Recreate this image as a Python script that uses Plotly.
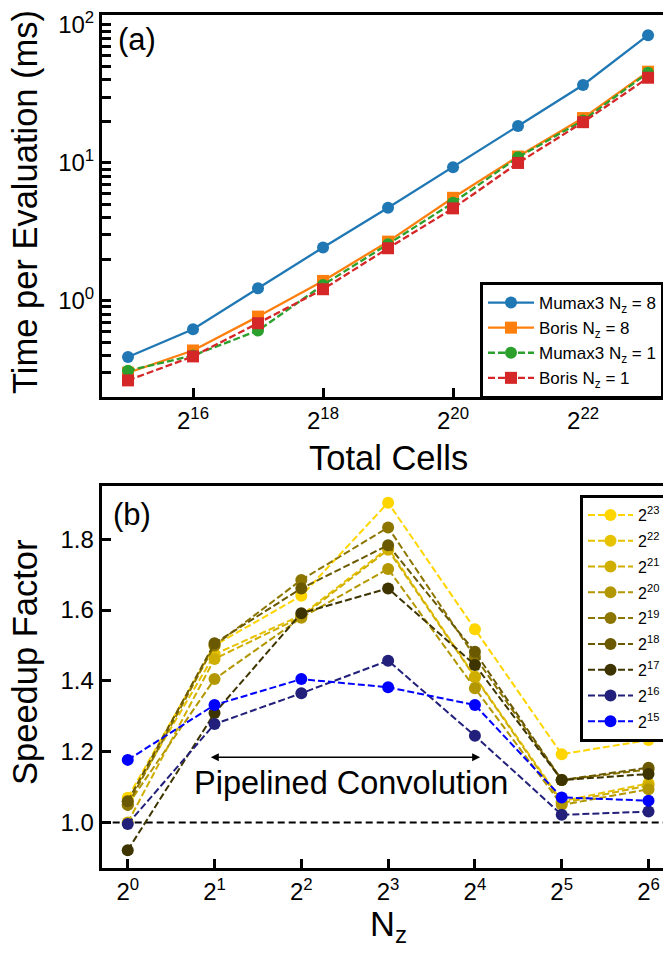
import math
import plotly.graph_objects as go

# ---------------- data ----------------
# Panel (a): time per evaluation (ms) vs total cells
total_cells = [2**k for k in range(15, 24)]
mumax_nz8 = [0.39, 0.62, 1.23, 2.43, 4.72, 9.28, 18.5, 36.7, 84.3]
boris_nz8 = [0.30, 0.435, 0.766, 1.39, 2.68, 5.57, 11.1, 21.1, 45.8]
mumax_nz1 = [0.31, 0.40, 0.607, 1.30, 2.57, 5.13, 10.96, 20.3, 45.0]
boris_nz1 = [0.264, 0.394, 0.686, 1.21, 2.40, 4.67, 9.97, 19.7, 41.4]
top_names = ["Mumax3 N<sub>z</sub> = 8", "Boris N<sub>z</sub> = 8",
             "Mumax3 N<sub>z</sub> = 1", "Boris N<sub>z</sub> = 1"]
top_x_tick_vals = [2**16, 2**18, 2**20, 2**22]
top_x_tick_text = ["2<sup>16</sup>", "2<sup>18</sup>", "2<sup>20</sup>", "2<sup>22</sup>"]
top_y_tick_vals = [1, 10, 100]
top_y_tick_text = ["10<sup>0</sup>", "10<sup>1</sup>", "10<sup>2</sup>"]

# Panel (b): speedup factor vs Nz, one series per total cell count
nz_values = [1, 2, 4, 8, 16, 32, 64]
speedup_labels = ["2<sup>23</sup>", "2<sup>22</sup>", "2<sup>21</sup>", "2<sup>20</sup>",
                  "2<sup>19</sup>", "2<sup>18</sup>", "2<sup>17</sup>", "2<sup>16</sup>",
                  "2<sup>15</sup>"]
speedup_2_23 = [1.07, 1.50, 1.64, 1.903, 1.546, 1.193, 1.233]
speedup_2_22 = [1.06, 1.475, 1.585, 1.775, 1.412, 1.06, 1.111]
speedup_2_21 = [1.00, 1.462, 1.58, 1.77, 1.41, 1.055, 1.105]
speedup_2_20 = [1.05, 1.405, 1.578, 1.716, 1.379, 1.05, 1.094]
speedup_2_19 = [1.05, 1.50, 1.685, 1.833, 1.468, 1.12, 1.15]
speedup_2_18 = [1.06, 1.506, 1.661, 1.783, 1.482, 1.12, 1.155]
speedup_2_17 = [0.922, 1.309, 1.591, 1.661, 1.445, 1.12, 1.137]
speedup_2_16 = [0.996, 1.278, 1.365, 1.457, 1.245, 1.022, 1.031]
speedup_2_15 = [1.177, 1.332, 1.405, 1.382, 1.332, 1.071, 1.062]
speedup_series = [speedup_2_23, speedup_2_22, speedup_2_21, speedup_2_20, speedup_2_19,
                  speedup_2_18, speedup_2_17, speedup_2_16, speedup_2_15]
bottom_x_tick_vals = nz_values
bottom_x_tick_text = ["2<sup>%d</sup>" % k for k in range(7)]
bottom_y_tick_vals = [1.0, 1.2, 1.4, 1.6, 1.8]
BASELINE = 1.0
ARROW_Y = 1.1845
ARROW_X0_EXP, ARROW_X1_EXP = 0.94, 4.06
LABEL_X_EXP, LABEL_Y = 2.57, 1.112

# ---------------- style ----------------
FONT = "Liberation Sans, Arial, sans-serif"
W, H = 663, 954
top_colors = ["#1f77b4", "#ff7f0e", "#2ca02c", "#d62728"]
top_symbols = ["circle", "square", "circle", "square"]
top_dash = ["solid", "solid", "7px,3px", "7px,3px"]
bottom_colors = ["#FFD500", "#E6C200", "#CFAE00", "#B39700", "#8C7600",
                 "#6A5900", "#3E3400", "#22207A", "#0000FF"]

def px_x(p):
    return p / W

def px_y(p):
    return 1 - p / H

LOG2 = math.log10(2)

fig = go.Figure()

series_top = [mumax_nz8, boris_nz8, mumax_nz1, boris_nz1]
for name, ys, c, s, d in zip(top_names, series_top, top_colors, top_symbols, top_dash):
    fig.add_trace(go.Scatter(
        x=total_cells, y=ys, name=name, mode="lines+markers",
        line=dict(color=c, width=2.3, dash=d),
        marker=dict(color=c, size=12, symbol=s, line=dict(width=0)),
        xaxis="x", yaxis="y", legend="legend"))

for i, (name, ys, c) in enumerate(zip(speedup_labels, speedup_series, bottom_colors)):
    fig.add_trace(go.Scatter(
        x=nz_values, y=ys, name=name, mode="lines+markers",
        line=dict(color=c, width=2, dash="7px,3px"),
        marker=dict(color=c, size=12, symbol="circle", line=dict(width=0)),
        xaxis="x2", yaxis="y2", legend="legend2", legendgroup="g%d" % i))

axis_common = dict(showline=True, linecolor="black", linewidth=3, ticks="inside",
                   ticklen=9, tickwidth=2.5, tickcolor="black", showgrid=False,
                   zeroline=False, automargin=False,
                   tickfont=dict(family=FONT, size=24, color="black"))

top_dom_y = [px_y(397), px_y(15)]
bot_dom_y = [px_y(868.3), px_y(486)]

minor_vals = [m * 10**e for e in (-1, 0, 1) for m in range(2, 10)]

fig.update_layout(
    width=W, height=H, margin=dict(l=0, r=0, t=0, b=0, autoexpand=False),
    paper_bgcolor="white", plot_bgcolor="white",
    font=dict(family=FONT, color="black"),
    xaxis=dict(axis_common, type="log", domain=[px_x(102), 1], anchor="y",
               range=[14.6 * LOG2, 23.23 * LOG2], tickmode="array",
               tickvals=top_x_tick_vals, ticktext=top_x_tick_text, mirror=True),
    yaxis=dict(axis_common, type="log", domain=top_dom_y, anchor="x",
               range=[math.log10(0.2), 2.072], tickmode="array",
               tickvals=top_y_tick_vals, ticktext=top_y_tick_text,
               minor=dict(tickmode="array", tickvals=minor_vals, ticks="inside",
                          ticklen=9, tickwidth=2.5, tickcolor="black", showgrid=False)),
    xaxis2=dict(axis_common, type="log", domain=[px_x(101.7), 1], anchor="y2",
                range=[-0.3 * LOG2, 6.167 * LOG2], tickmode="array",
                tickvals=bottom_x_tick_vals, ticktext=bottom_x_tick_text, mirror=True),
    yaxis2=dict(axis_common, domain=bot_dom_y, anchor="x2",
                range=[0.871, 1.95], tickmode="array",
                tickvals=bottom_y_tick_vals, tickformat=".1f"),
    legend=dict(x=px_x(480), y=px_y(282), xanchor="left", yanchor="top",
                bgcolor="white", bordercolor="black", borderwidth=3,
                font=dict(family=FONT, size=17, color="black"),
                tracegroupgap=0, itemwidth=46),
    legend2=dict(x=px_x(580), y=px_y(495), xanchor="left", yanchor="top",
                 bgcolor="white", bordercolor="black", borderwidth=3,
                 font=dict(family=FONT, size=16, color="black"),
                 tracegroupgap=2, itemwidth=45),
    showlegend=True,
)

fig.add_shape(type="line", xref="x2 domain", yref="y2", x0=0, x1=1,
              y0=BASELINE, y1=BASELINE, layer="below",
              line=dict(color="black", width=2, dash="7px,4px"))

# double-headed arrow + label
fig.add_annotation(xref="x2", yref="y2", axref="x2", ayref="y2",
                   x=ARROW_X1_EXP * LOG2, y=ARROW_Y, ax=ARROW_X0_EXP * LOG2, ay=ARROW_Y,
                   text="", showarrow=True, arrowside="end+start", arrowhead=2,
                   arrowsize=1, arrowwidth=1.6, arrowcolor="black")
fig.add_annotation(xref="x2", yref="y2", x=LABEL_X_EXP * LOG2, y=LABEL_Y,
                   text="Pipelined Convolution", showarrow=False,
                   xanchor="center", yanchor="middle",
                   font=dict(family=FONT, size=32.5, color="black"))

# panel labels and axis titles
title_font = dict(family=FONT, size=34.5, color="black")
fig.add_annotation(xref="paper", yref="paper", x=px_x(116), y=px_y(40), xanchor="left",
                   yanchor="middle", text="(a)", showarrow=False,
                   font=dict(family=FONT, size=31, color="black"))
fig.add_annotation(xref="paper", yref="paper", x=px_x(111), y=px_y(514), xanchor="left",
                   yanchor="middle", text="(b)", showarrow=False,
                   font=dict(family=FONT, size=31, color="black"))
fig.add_annotation(xref="paper", yref="paper", x=px_x(25), y=px_y(202),
                   xanchor="center", yanchor="middle",
                   text="Time per Evaluation (ms)", textangle=-90, showarrow=False,
                   font=title_font)
fig.add_annotation(xref="paper", yref="paper", x=px_x(25), y=px_y(662),
                   xanchor="center", yanchor="middle",
                   text="Speedup Factor", textangle=-90, showarrow=False,
                   font=title_font)
fig.add_annotation(xref="paper", yref="paper", x=px_x(388), y=px_y(458),
                   xanchor="center", yanchor="middle",
                   text="Total Cells", showarrow=False, font=title_font)
fig.add_annotation(xref="paper", yref="paper", x=px_x(388), y=px_y(926),
                   xanchor="center", yanchor="middle",
                   text="N<sub>z</sub>", showarrow=False, font=title_font)

fig.write_html("out.html", config={"displayModeBar": False},
               post_script="document.body.style.margin='0';document.body.style.overflow='hidden';")
